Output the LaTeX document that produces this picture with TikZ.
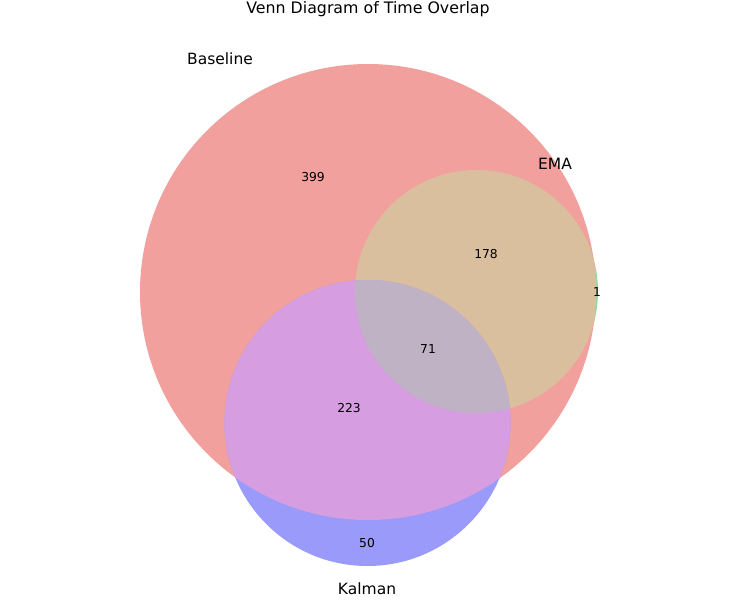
\documentclass[tikz,border=0pt]{standalone}
\usepackage{fontspec}
\setmainfont{DejaVu Sans}
\definecolor{cA}{RGB}{242,160,158}
\definecolor{cB}{RGB}{160,212,160}
\definecolor{cAB}{RGB}{218,191,158}
\definecolor{cC}{RGB}{154,154,250}
\definecolor{cAC}{RGB}{214,158,224}
\definecolor{cABC}{RGB}{190,178,196}
\tikzset{
  numlbl/.style={font=\fontsize{12.3}{12.3}\selectfont, text=black},
  setlbl/.style={font=\fontsize{15.5}{15.5}\selectfont, text=black},
  ttl/.style={font=\fontsize{15.8}{15.8}\selectfont, text=black}
}
\begin{document}
\begin{tikzpicture}[x=1pt,y=-1pt]
\useasboundingbox (0,0) rectangle (750,600);
\def\circA{(368,292) circle (228)}
\def\circB{(476.5,291.5) circle (121.5)}
\def\circC{(367.5,423) circle (143)}
\fill[cB] \circB;
\fill[cA] \circA;
\begin{scope}
  \clip \circB;
  \fill[cAB] \circA;
\end{scope}
\fill[cC] \circC;
\begin{scope}
  \clip \circC;
  \fill[cAC] \circA;
  \clip \circB;
  \fill[cABC] \circA;
\end{scope}
\node[ttl] (title) at (368,9) {Venn Diagram of Time Overlap};
\node[setlbl] (lA) at (220,59) {Baseline};
\node[setlbl] (lB) at (555,164) {EMA};
\node[setlbl] (lC) at (367,589) {Kalman};
\node[numlbl] (n100) at (313,177) {399};
\node[numlbl] (n110) at (486,254) {178};
\node[numlbl] (n010) at (597,292) {1};
\node[numlbl] (n111) at (428,349) {71};
\node[numlbl] (n101) at (349,408) {223};
\node[numlbl] (n001) at (367,543) {50};
\end{tikzpicture}
\end{document}
